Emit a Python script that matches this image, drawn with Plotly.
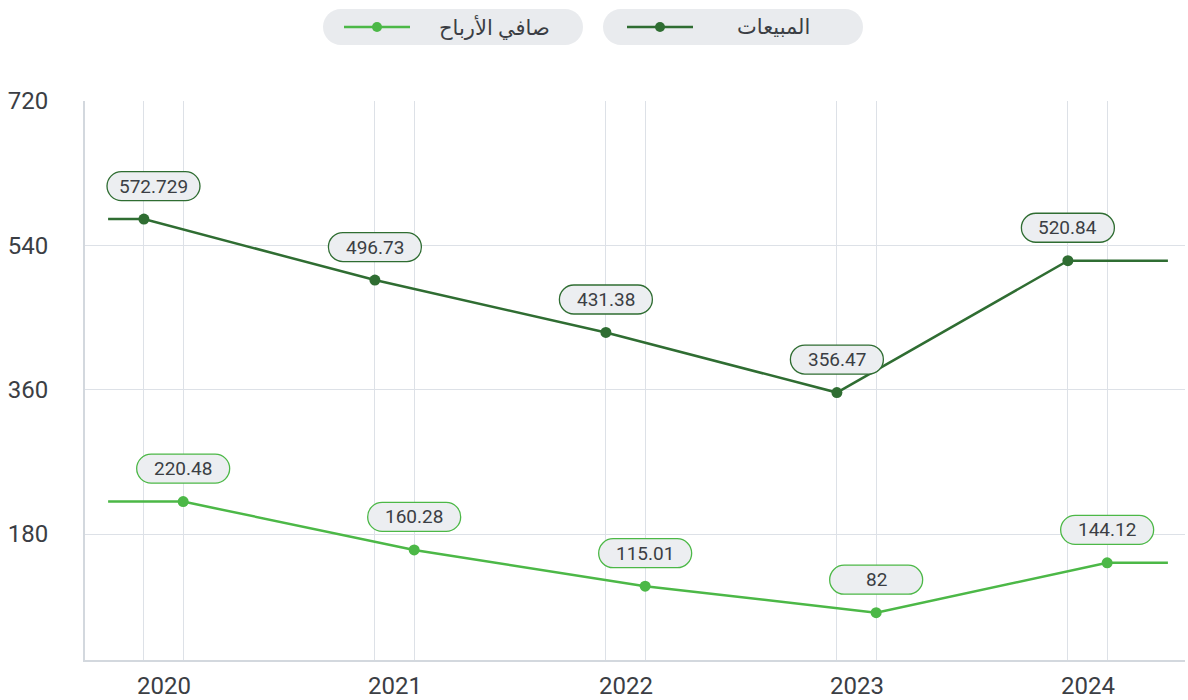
import plotly.graph_objects as go

# ---------------- data ----------------
years = ["2020", "2021", "2022", "2023", "2024"]
sales = [572.729, 496.73, 431.38, 356.47, 520.84]
profit = [220.48, 160.28, 115.01, 82, 144.12]
series_names = ["المبيعات", "صافي الأرباح"]
y_ticks = [180, 360, 540, 720]

# ---------------- style ----------------
DARK = "#2f6d32"
LIGHT = "#4cb847"
TEXT = "#3b3e44"
GRID = "#dde1e7"
AXIS = "#d3d8de"
BOX_FILL = "#eceef1"
LEG_FILL = "#e9ebee"
FONT = "Roboto, 'DejaVu Sans', sans-serif"

OFF_DARK, OFF_LIGHT = -0.087, 0.083
EXT_L, EXT_R = -0.242, 4.346
X_RANGE = [-0.342, 4.42]
Y_RANGE = [23, 720]

W, H = 1188, 700
PLOT_L, PLOT_R, PLOT_T, PLOT_B = 85, 1185, 101, 660
BOX_W, BOX_H, BOX_UP = 93, 29, 33
BOX_MIN_LEFT = PLOT_L + 22


def pill(cx, cy, w, h):
    r = h / 2.0
    k = 0.5523 * r
    xl, xr = cx - w / 2.0 + r, cx + w / 2.0 - r
    yb, yt = cy - r, cy + r
    return (
        f"M {xl},{yb} L {xr},{yb} "
        f"C {xr + k},{yb} {xr + r},{cy - k} {xr + r},{cy} "
        f"C {xr + r},{cy + k} {xr + k},{yt} {xr},{yt} "
        f"L {xl},{yt} "
        f"C {xl - k},{yt} {xl - r},{cy + k} {xl - r},{cy} "
        f"C {xl - r},{cy - k} {xl - k},{yb} {xl},{yb} Z"
    )


def fmt(v):
    return f"{v:g}"


def x_to_px(x):
    return PLOT_L + (x - X_RANGE[0]) / (X_RANGE[1] - X_RANGE[0]) * (PLOT_R - PLOT_L)


fig = go.Figure()
shapes = []
annotations = []

n = len(years)
for vals, off, color in [(sales, OFF_DARK, DARK), (profit, OFF_LIGHT, LIGHT)]:
    xs = [i + off for i in range(n)]
    fig.add_trace(go.Scatter(
        x=[EXT_L] + xs + [EXT_R],
        y=[vals[0]] + vals + [vals[-1]],
        mode="lines",
        line=dict(color=color, width=2.5),
        showlegend=False,
        hoverinfo="skip",
    ))
    fig.add_trace(go.Scatter(
        x=xs, y=vals, mode="markers",
        marker=dict(size=11, color=color, opacity=1, line=dict(width=0)),
        showlegend=False, hoverinfo="skip",
    ))
    for x, v in zip(xs, vals):
        left = x_to_px(x) - BOX_W / 2.0
        dx = max(0.0, BOX_MIN_LEFT - left)
        shapes.append(dict(
            type="path", xref="x", yref="y",
            xsizemode="pixel", ysizemode="pixel",
            xanchor=x, yanchor=v,
            path=pill(dx, BOX_UP, BOX_W, BOX_H),
            fillcolor=BOX_FILL, line=dict(color=color, width=1.3),
            layer="above",
        ))
        annotations.append(dict(
            x=x, y=v, xref="x", yref="y", yshift=BOX_UP, xshift=dx,
            xanchor="center", yanchor="middle",
            text=fmt(v), showarrow=False,
            font=dict(family=FONT, size=19, color=TEXT),
        ))

# ---------------- custom legend (pills at top) ----------------
legend_items = [
    # (name, color, pill center px, icon center px, text center px)
    (series_names[0], DARK, 733, 660, 773),
    (series_names[1], LIGHT, 453, 377, 494),
]
LEG_Y = 27
for name, color, pcx, icx, tcx in legend_items:
    oy = PLOT_B - LEG_Y
    shapes.append(dict(
        type="path", xref="paper", yref="paper",
        xsizemode="pixel", ysizemode="pixel", xanchor=0, yanchor=0,
        path=pill(pcx - PLOT_L, oy, 260, 36),
        fillcolor=LEG_FILL, line=dict(width=0), layer="above",
    ))
    shapes.append(dict(
        type="line", xref="paper", yref="paper",
        xsizemode="pixel", ysizemode="pixel", xanchor=0, yanchor=0,
        x0=icx - 33 - PLOT_L, x1=icx + 33 - PLOT_L, y0=oy, y1=oy,
        line=dict(color=color, width=2.5), layer="above",
    ))
    shapes.append(dict(
        type="circle", xref="paper", yref="paper",
        xsizemode="pixel", ysizemode="pixel", xanchor=0, yanchor=0,
        x0=icx - 5 - PLOT_L, x1=icx + 5 - PLOT_L, y0=oy - 5, y1=oy + 5,
        fillcolor=color, line=dict(width=0), layer="above",
    ))
    annotations.append(dict(
        x=0, y=0, xref="paper", yref="paper",
        xshift=tcx - PLOT_L, yshift=oy,
        xanchor="center", yanchor="middle",
        text=name, showarrow=False,
        font=dict(family=FONT, size=21, color=TEXT),
    ))

minor_vals = []
for i in range(n):
    minor_vals += [i + OFF_DARK, i + OFF_LIGHT]

fig.update_layout(
    width=W, height=H,
    margin=dict(l=PLOT_L, r=W - PLOT_R, t=PLOT_T, b=H - PLOT_B, autoexpand=False),
    paper_bgcolor="white", plot_bgcolor="white",
    shapes=shapes, annotations=annotations,
    showlegend=False,
    xaxis=dict(
        range=X_RANGE, tickmode="array",
        tickvals=list(range(n)), ticktext=years,
        showgrid=False, zeroline=False, automargin=False,
        showline=True, linecolor=AXIS, linewidth=2,
        ticks="", ticklabelstandoff=3,
        tickfont=dict(family=FONT, size=24, color=TEXT),
        minor=dict(tickmode="array", tickvals=minor_vals, showgrid=True,
                   gridcolor=GRID, gridwidth=1, ticks=""),
    ),
    yaxis=dict(
        range=Y_RANGE, tickmode="array", tickvals=y_ticks,
        showgrid=True, gridcolor=GRID, gridwidth=1, zeroline=False,
        automargin=False,
        showline=True, linecolor=AXIS, linewidth=2,
        ticks="", ticklabelstandoff=30,
        tickfont=dict(family=FONT, size=24, color=TEXT),
    ),
)

fig.write_html(
    "out.html",
    config={"displayModeBar": False},
    post_script="document.body.style.margin='0';document.body.style.overflow='hidden';",
)
